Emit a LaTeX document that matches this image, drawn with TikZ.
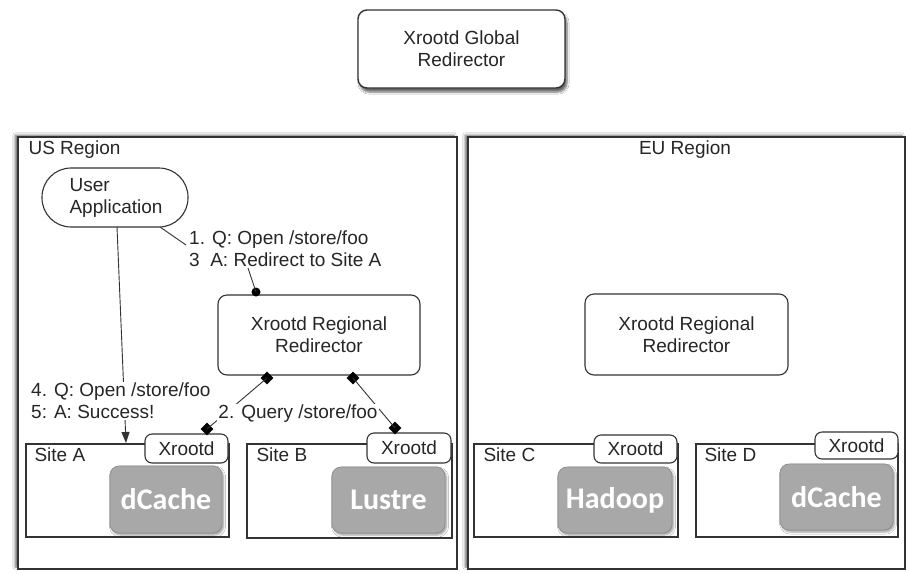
\documentclass[tikz,border=0pt]{standalone}
\usepackage{fontspec}
\setmainfont{Liberation Sans}
\newfontfamily\calib{Carlito}
\usetikzlibrary{arrows.meta,shadows,shadows.blur,shapes.geometric}
\definecolor{boxgray}{HTML}{A8A8A8}
\definecolor{boxedge}{HTML}{909090}
\definecolor{edge}{HTML}{333333}
\tikzset{
  txt/.style={font=\fontsize{19}{22}\selectfont, text=black!85},
  region/.style={draw=edge, line width=1.6pt, fill=white, minimum width=#1, inner sep=0pt,
    blur shadow={shadow xshift=-3pt, shadow yshift=2pt, shadow blur steps=6, shadow opacity=55}},
  rbox/.style={draw=edge, line width=1.1pt, rounded corners=9pt, fill=white, align=center, txt, inner sep=0pt},
  sitebox/.style={draw=edge, line width=1.3pt, fill=white, inner sep=0pt},
  tabbox/.style={draw=edge, line width=1.1pt, rounded corners=7pt, fill=white, txt, inner sep=0pt},
  fsbox/.style={draw=boxedge, line width=0.8pt, fill=boxgray, rounded corners=9pt, text=white,
    font=\calib\bfseries\fontsize{30}{34}\selectfont, inner sep=0pt,
    blur shadow={shadow xshift=1.5pt, shadow yshift=-2pt, shadow blur steps=5, shadow opacity=40}},
  lbl/.style={txt, fill=white, inner sep=1pt, align=left},
  conn/.style={draw=edge, line width=0.9pt},
  dmark/.style={diamond, fill=black, inner sep=0pt, minimum width=13pt, minimum height=13pt},
  dotmark/.style={circle, fill=black, inner sep=0pt, minimum size=9pt},
}
\begin{document}
\begin{tikzpicture}[x=1pt,y=-1pt]
\useasboundingbox (0,0) rectangle (909,573);
\fill[white] (0,0) rectangle (909,573);

% global redirector
\node[rbox, minimum width=207pt, minimum height=78pt, line width=1.4pt,
  blur shadow={shadow xshift=2pt, shadow yshift=-4pt, shadow blur steps=6, shadow opacity=60}]
  (glob) at (461.5,49) {Xrootd Global\\Redirector};

% regions
\node[region=439pt, minimum height=432pt] (us) at (237.5,353) {};
\node[region=437pt, minimum height=432pt] (eu) at (686.5,353) {};
\node[txt, anchor=west] (uslab) at (25,150) {US Region};
\node[txt] (eulab) at (685,150) {EU Region};

% user application
\node[draw=edge, line width=1.1pt, fill=white, rounded corners=29pt, minimum width=146pt,
  minimum height=59pt, inner sep=0pt] (ua) at (115,197.5) {};
\node[txt, align=left, anchor=west] (uatext) at (66,197.5) {User\\Application};

% regional redirectors
\node[rbox, minimum width=202pt, minimum height=80pt] (rrus) at (319,335) {Xrootd Regional\\Redirector};
\node[rbox, minimum width=203pt, minimum height=81pt] (rreu) at (686.5,334.5) {Xrootd Regional\\Redirector};

% sites
\node[sitebox, minimum width=203pt, minimum height=93pt] (siteA) at (127.5,490.5) {};
\node[sitebox, minimum width=205pt, minimum height=94pt] (siteB) at (349.5,491) {};
\node[sitebox, minimum width=204pt, minimum height=93pt] (siteC) at (576,490.5) {};
\node[sitebox, minimum width=202pt, minimum height=93pt] (siteD) at (797,490.5) {};
\node[txt, anchor=west] (siteAl) at (31,455) {Site A};
\node[txt, anchor=west] (siteBl) at (253,455) {Site B};
\node[txt, anchor=west] (siteCl) at (480,455) {Site C};
\node[txt, anchor=west] (siteDl) at (701,455) {Site D};

\node[tabbox, minimum width=83pt, minimum height=29pt] (tabA) at (186.5,448.5) {Xrootd};
\node[tabbox, minimum width=84pt, minimum height=30pt] (tabB) at (409,448) {Xrootd};
\node[tabbox, minimum width=83pt, minimum height=28pt] (tabC) at (635.5,449) {Xrootd};
\node[tabbox, minimum width=83pt, minimum height=27pt] (tabD) at (856.5,445.5) {Xrootd};

\node[fsbox, minimum width=112pt, minimum height=67pt] (dcA) at (166,499.5) {dCache};
\node[fsbox, minimum width=113pt, minimum height=66pt] (luB) at (388.5,500) {Lustre};
\node[fsbox, minimum width=114pt, minimum height=66pt] (haC) at (615,500) {Hadoop};
\node[fsbox, minimum width=113pt, minimum height=66pt] (dcD) at (836.5,497) {dCache};

% connector coordinates and end marks
\coordinate (c1a) at (160,227);
\coordinate (c1b) at (186,245);
\coordinate (c2a) at (248,268);
\coordinate (c3a) at (117,227);
\coordinate (c3b) at (126,443);
\node[dotmark] (dot1) at (256,292) {};
\node[dmark] (dm1) at (267,378) {};
\node[dmark] (dm2) at (207,429) {};
\node[dmark] (dm3) at (353,378) {};
\node[dmark] (dm4) at (395,428) {};

% connectors
\draw[conn] (c1a) -- (c1b);
\draw[conn] (c2a) -- (dot1.center);
\draw[conn, -{Triangle[length=11pt,width=8pt]}] (c3a) -- (c3b);
\draw[conn] (dm1.center) -- (dm2.center);
\draw[conn] (dm3.center) -- (dm4.center);

% labels
\node[txt, align=left, anchor=west, inner sep=1pt] (lab1) at (188,249) {1. Q: Open /store/foo\\3\ \ A: Redirect to Site A};
\node[lbl, anchor=west] (lab4) at (30,401) {4. Q: Open /store/foo\\5: A: Success!};
\node[lbl] (lab2) at (298,414) {2. Query /store/foo};
\end{tikzpicture}
\end{document}
